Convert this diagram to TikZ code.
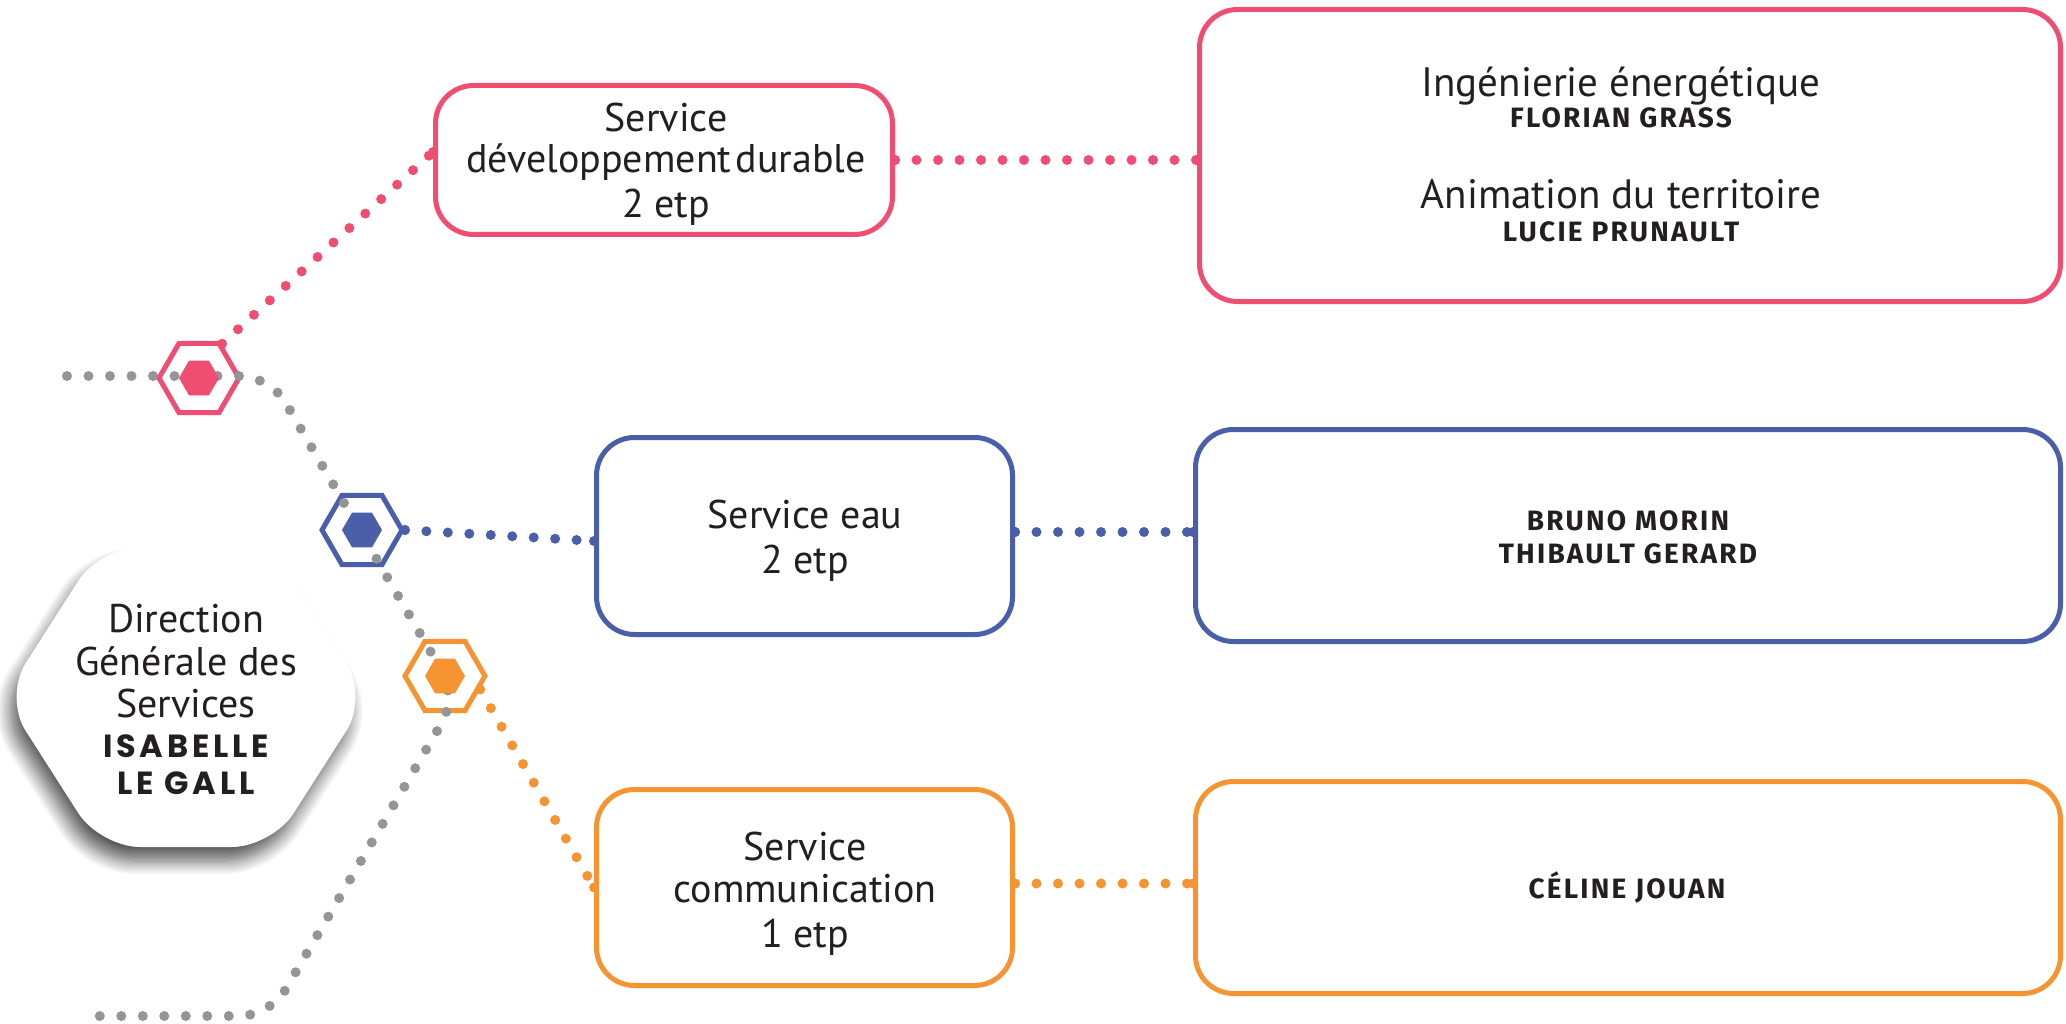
\documentclass[tikz,border=0pt]{standalone}
\usepackage{fontspec}
\setmainfont{PT Sans}
\newfontfamily\namef[LetterSpace=8]{Fira Sans}
\newfontfamily\dnamef[LetterSpace=12]{Poppins}
\usetikzlibrary{shapes.geometric,shadows.blur,calc}
\definecolor{pinkc}{RGB}{239,77,114}
\definecolor{bluec}{RGB}{75,94,170}
\definecolor{orangec}{RGB}{247,148,50}
\definecolor{grayc}{RGB}{147,149,152}
\definecolor{textc}{RGB}{35,31,32}
\tikzset{
  box/.style={draw=#1, line width=5pt, rounded corners=38pt, fill=white, inner sep=0pt},
  hexo/.style={regular polygon, regular polygon sides=6, minimum size=80pt, draw=#1, line width=5pt, inner sep=0pt},
  hexi/.style={regular polygon, regular polygon sides=6, minimum size=40pt, fill=#1, draw=none, inner sep=0pt},
  dots/.style={draw=#1, line width=10pt, line cap=round, dash pattern=on 0pt off 21.5pt},
  enddot/.style={fill=#1},
  maint/.style={font=\fontsize{40}{43}\selectfont, text=textc, anchor=base, inner sep=0pt},
  bigt/.style={font=\fontsize{41}{44}\selectfont, text=textc, anchor=base, inner sep=0pt},
  namet/.style={font=\namef\bfseries\fontsize{28}{30}\selectfont, text=textc, anchor=base, inner sep=0pt},
  dnamet/.style={font=\dnamef\bfseries\fontsize{32}{34}\selectfont, text=textc, anchor=base, inner sep=0pt},
  dirhex/.style={fill=white, rounded corners=40pt,
    blur shadow={shadow xshift=-6pt, shadow yshift=-14pt, shadow blur radius=14pt, shadow blur steps=12, shadow opacity=65}},
}
\begin{document}
\begin{tikzpicture}[x=1pt,y=-1pt]
\useasboundingbox (0,0) rectangle (2066,1024);

% Direction hexagon
\coordinate (dg) at (186,697);
\path[dirhex] ($(dg)+(-182,0)$) -- ($(dg)+(-86,-150)$) -- ($(dg)+(86,-150)$) -- ($(dg)+(182,0)$)
  -- ($(dg)+(86,150)$) -- ($(dg)+(-86,150)$) -- cycle;
\node[maint] (dg1) at (186,632) {Direction};
\node[maint] (dg2) at (186,675) {Générale des};
\node[maint] (dg3) at (186,717) {Services};
\node[dnamet] (dg4) at (186,757) {ISABELLE};
\node[dnamet] (dg5) at (186,794) {LE GALL};

% outer hexagons
\node[hexo=pinkc] (hp) at (199,378) {};
\node[hexo=bluec] (hb) at (362,530) {};
\node[hexo=orangec] (ho) at (445,676) {};

% gray trunk
\coordinate (g0) at (67,376);
\coordinate (gc1) at (270,376);
\coordinate (gc2) at (457,697);
\coordinate (gc3) at (270,1016);
\coordinate (g1) at (87,1016);
\draw[dots=grayc, rounded corners=30pt] (g0) -- (gc1) -- (gc2) -- (gc3) -- (g1);

% boxes
\node[box=pinkc, minimum width=457pt, minimum height=149pt] (sd) at (664,160) {};
\node[box=pinkc, minimum width=861pt, minimum height=292pt] (sdb) at (1630,155.5) {};
\node[box=bluec, minimum width=416pt, minimum height=197pt] (se) at (804.5,536) {};
\node[box=bluec, minimum width=865pt, minimum height=212pt] (seb) at (1628,535.5) {};
\node[box=orangec, minimum width=416pt, minimum height=196pt] (sc) at (804.5,887.5) {};
\node[box=orangec, minimum width=865pt, minimum height=212pt] (scb) at (1628,887.5) {};

% colored connectors
\coordinate (sdL) at ($(sd.west)+(0,-8)$);
\draw[dots=pinkc] (hp.56) -- (sdL);
\fill[enddot=pinkc] (sdL) circle (5pt);
\coordinate (sdR) at (sd.east);
\coordinate (sdbL) at (sdR -| sdb.west);
\draw[dots=pinkc] (sdR) -- (sdbL);
\fill[enddot=pinkc] (sdR) circle (5pt) (sdbL) circle (5pt);

\coordinate (seL) at ($(se.west)+(0,5)$);
\draw[dots=bluec] (hb.east) -- (seL);
\fill[enddot=bluec] (seL) circle (5pt) (hb.east) circle (5pt);
\coordinate (seR) at ($(se.east)+(0,-4)$);
\coordinate (sebL) at (seR -| seb.west);
\draw[dots=bluec] (seR) -- (sebL);
\fill[enddot=bluec] (seR) circle (5pt) (sebL) circle (5pt);

\coordinate (scL) at (sc.west);
\draw[dots=orangec] (ho.-21) -- (scL);
\fill[enddot=orangec] (scL) circle (5pt);
\coordinate (scR) at ($(sc.east)+(0,-4)$);
\coordinate (scbL) at (scR -| scb.west);
\draw[dots=orangec] (scR) -- (scbL);
\fill[enddot=orangec] (scR) circle (5pt) (scbL) circle (5pt);

% inner hexagons
\node[hexi=pinkc] (hpi) at (hp) {};
\node[hexi=bluec] (hbi) at (hb) {};
\node[hexi=orangec] (hoi) at (ho) {};

% texts
\node[maint] (t1) at (666,132) {Service};
\node[maint] (t2) at (666,173) {développement\hspace{4pt}durable};
\node[maint] (t3) at (666,218) {2 etp};
\node[bigt] (t4) at (1621,97) {Ingénierie énergétique};
\node[namet] (t5) at (1621,128) {FLORIAN GRASS};
\node[bigt] (t6) at (1621,209) {Animation du territoire};
\node[namet] (t7) at (1621,242) {LUCIE PRUNAULT};

\node[maint] (t8) at (805,528) {Service eau};
\node[maint] (t9) at (805,573) {2 etp};
\node[namet] (t10) at (1628,530) {BRUNO MORIN};
\node[namet] (t11) at (1628,563) {THIBAULT GERARD};

\node[maint] (t12) at (805,860) {Service};
\node[maint] (t13) at (805,902) {communication};
\node[maint] (t14) at (805,947) {1 etp};
\node[namet] (t15) at (1627,898) {CÉLINE JOUAN};
\end{tikzpicture}
\end{document}
